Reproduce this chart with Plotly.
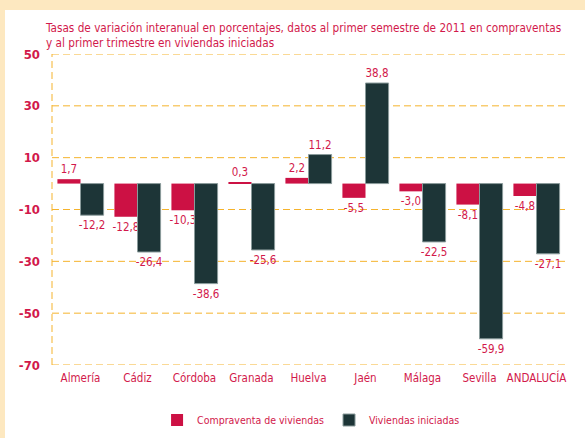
import plotly.graph_objects as go

categories = ["Almería", "Cádiz", "Córdoba", "Granada", "Huelva", "Jaén", "Málaga", "Sevilla", "ANDALUCÍA"]
compraventa = [1.7, -12.8, -10.3, 0.3, 2.2, -5.5, -3.0, -8.1, -4.8]
iniciadas = [-12.2, -26.4, -38.6, -25.6, 11.2, 38.8, -22.5, -59.9, -27.1]
y_ticks = [50, 30, 10, -10, -30, -50, -70]

RED = "#CC1144"
DARK = "#1D3537"
TXT = "#D2194B"
GRID = "#F5B32C"
BEIGE = "#FDE8C0"
FONT = "DejaVu Sans Condensed, Liberation Sans, sans-serif"

def fmt(vals):
    return [f"{v:.1f}".replace(".", ",") for v in vals]

W, H = 585, 438
ml, mr, mt, mb = 52, 20, 54, 73
pw, ph = W - ml - mr, H - mt - mb

def px_x(x):
    return (x - ml) / pw

def px_y(y):
    return (H - mb - y) / ph

fig = go.Figure()
fig.add_trace(go.Bar(
    x=categories, y=compraventa, name="Compraventa de viviendas",
    marker=dict(color=RED, line=dict(width=0)),
    text=fmt(compraventa), textposition="outside", constraintext="none",
    textfont=dict(color=TXT, size=11.5, family=FONT), cliponaxis=False,
))
fig.add_trace(go.Bar(
    x=categories, y=iniciadas, name="Viviendas iniciadas",
    marker=dict(color=DARK, line=dict(width=1, color="#8A9B9B")),
    text=fmt(iniciadas), textposition="outside", constraintext="none",
    textfont=dict(color=TXT, size=11.5, family=FONT), cliponaxis=False,
))

fig.update_layout(
    width=W, height=H,
    margin=dict(l=ml, r=mr, t=mt, b=mb, autoexpand=False),
    paper_bgcolor=BEIGE, plot_bgcolor="white",
    barmode="group", bargap=0.19, bargroupgap=0,
    font=dict(family=FONT, color=TXT),
    showlegend=True,
    legend=dict(orientation="h", x=0.505, xanchor="center", y=px_y(420), yanchor="middle",
                font=dict(size=10.5, color=TXT, family=FONT), bgcolor="rgba(0,0,0,0)",
                traceorder="normal"),
)
fig.update_yaxes(
    range=[-70, 50], tickvals=y_ticks, ticktext=[str(v) for v in y_ticks],
    showgrid=False, zeroline=False, showline=False, ticks="", automargin=False,
    tickfont=dict(size=13, color=TXT, family=FONT, weight="bold"),
    ticklabelstandoff=11,
)
fig.update_xaxes(
    showgrid=False, zeroline=False, showline=False, ticks="", automargin=False,
    tickangle=0, ticklabelstandoff=4,
    tickfont=dict(size=11.5, color=TXT, family=FONT),
)

fig.add_shape(type="rect", xref="paper", yref="paper",
              x0=px_x(5), x1=px_x(600), y0=px_y(450), y1=px_y(10),
              fillcolor="white", line=dict(width=0), layer="below")
for v in y_ticks:
    fig.add_shape(type="line", xref="paper", yref="y",
                  x0=0, x1=1, y0=v, y1=v,
                  line=dict(color=GRID, width=1, dash="7px,4px"), layer="below")
fig.add_shape(type="line", xref="paper", yref="paper",
              x0=0, x1=0, y0=0, y1=1,
              line=dict(color=GRID, width=1, dash="7px,4px"), layer="below")

fig.add_annotation(
    xref="paper", yref="paper", x=px_x(43), y=px_y(19), xanchor="left", yanchor="top",
    align="left", showarrow=False,
    text="Tasas de variación interanual en porcentajes, datos al primer semestre de 2011 en compraventas<br>y al primer trimestre en viviendas iniciadas",
    font=dict(size=11.7, color=TXT, family=FONT),
)

fig.write_html("out.html", post_script="document.body.style.margin='0';",
               config={"displayModeBar": False})
